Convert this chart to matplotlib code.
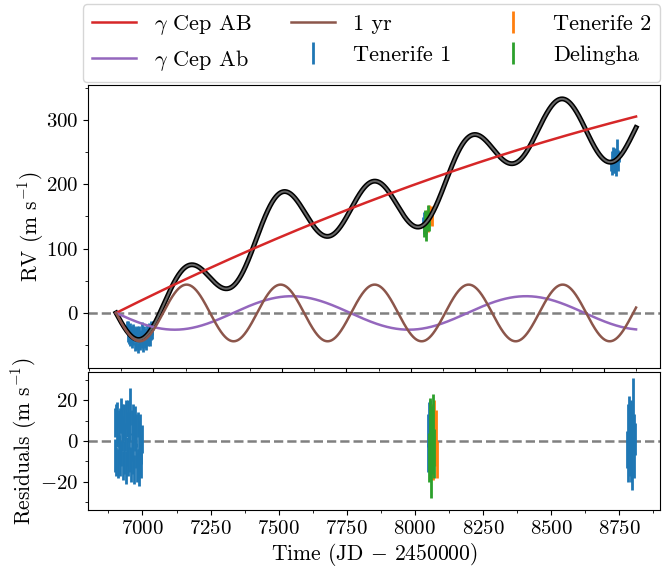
import numpy as np
import matplotlib
matplotlib.use("Agg")
import matplotlib.pyplot as plt
import matplotlib.patheffects as pe
from matplotlib.ticker import MultipleLocator, AutoMinorLocator

plt.rcParams['font.family'] = 'serif'
plt.rcParams['font.serif'] = ['cmr10']
plt.rcParams['mathtext.fontset'] = 'cm'
plt.rcParams['axes.formatter.use_mathtext'] = True
plt.rcParams['axes.unicode_minus'] = True
plt.rcParams['font.size'] = 15
plt.rcParams['axes.labelsize'] = 15.5

# ---- model parameters ----
model_t_start = 6855.0
model_t_end = 8875.0
AB_lin = 0.2001          # m/s per day (binary trend)
AB_quad = -2.43e-5       # curvature of the trend
Ab_K = 26.0              # planet semi-amplitude, m/s
Ab_P = 910.0             # planet period, days
yr_K = 44.0              # 1-yr signal amplitude, m/s
yr_P = 365.25            # days

# ---- Tenerife 1 (season 1) ----
t1a_time = [6898, 6900, 6902, 6904, 6906, 6908, 6910, 6912, 6914, 6916,
            6918, 6920, 6922, 6924, 6926, 6928, 6930, 6932, 6934, 6936,
            6938, 6940, 6942, 6944, 6946, 6948, 6950, 6952, 6954, 6956,
            6958, 6960, 6962, 6964, 6966, 6968, 6970, 6972, 6974, 6976,
            6978, 6980, 6982, 6984, 6986, 6988, 6990, 6992, 6994, 6996, 6998]
t1a_rv = [-20, -37, -19, -42, -28, -21, -45, -28, -40, -27,
          -46, -24, -44, -36, -28, -52, -34, -30, -49, -39,
          -28, -54, -33, -46, -29, -51, -34, -37, -49, -23,
          -52, -30, -42, -27, -46, -31, -50, -33, -25, -41,
          -28, -45, -42, -22, -42, -26, -35, -18, -28, -33, -20]
t1a_res = [9, -7, 12, -10, 5, 13, -11, 7, -4, 10,
           -9, 14, -6, 3, 11, -12, 6, 10, -8, 2,
           13, -13, 8, -5, 12, -10, 7, 4, -9, 17,
           -12, 9, -3, 11, -8, 6, -14, 3, 10, -7,
           5, -13, -11, 8, -13, 2, -9, 7, -4, -10, 1]
t1a_err = [7, 8, 6, 7, 8, 6, 7, 8, 7, 6,
           8, 7, 6, 8, 7, 7, 6, 8, 8, 7,
           7, 8, 6, 7, 8, 7, 7, 8, 6, 9,
           8, 6, 7, 7, 8, 6, 7, 8, 7, 6,
           8, 7, 7, 6, 9, 8, 7, 6, 7, 8, 7]

# ---- Tenerife 1 (season 2) ----
t1b_time = [8048, 8050, 8052, 8054, 8056, 8058, 8060, 8062]
t1b_rv = [141, 129, 148, 134, 151, 130, 143, 136]
t1b_res = [5, -8, 10, -4, 12, -10, 3, -6]
t1b_err = [8, 7, 9, 8, 8, 8, 7, 9]

# ---- Tenerife 1 (season 3) ----
t1c_time = [8779, 8781, 8783, 8785, 8787, 8789, 8791, 8793,
            8795, 8797, 8799, 8801, 8803, 8805, 8807]
t1c_rv = [230, 242, 223, 241, 248, 228, 239, 246,
          228, 225, 243, 257, 231, 244, 242]
t1c_res = [-4, 8, -12, 6, 13, -7, 3, 10,
           -9, -12, 5, 18, -8, 4, 1]
t1c_err = [9, 10, 8, 11, 9, 10, 9, 10,
           11, 12, 9, 13, 10, 9, 8]

# ---- Tenerife 2 ----
t2_time = [8060, 8063, 8066, 8069, 8072, 8075, 8078, 8081]
t2_rv = [134, 151, 133, 150, 159, 146, 158, 144]
t2_res = [-6, 9, -11, 4, 12, -3, 7, -9]
t2_err = [8, 9, 8, 10, 8, 9, 8, 9]

# ---- Delingha ----
dl_time = [8052, 8055, 8058, 8061, 8064, 8067, 8070]
dl_rv = [130, 149, 126, 146, 140, 156, 140]
dl_res = [-8, 10, -14, 5, -3, 12, -6]
dl_err = [12, 11, 14, 12, 13, 11, 12]

xticks = [7000, 7250, 7500, 7750, 8000, 8250, 8500, 8750]

# ---- model curves ----
tm = np.linspace(model_t_start, model_t_end, 3000)
dt = tm - model_t_start
rv_AB = AB_lin * dt + AB_quad * dt ** 2
rv_Ab = -Ab_K * np.sin(2 * np.pi * dt / Ab_P)
rv_yr = -yr_K * np.sin(2 * np.pi * dt / yr_P)
rv_tot = rv_AB + rv_Ab + rv_yr

fig = plt.figure(figsize=(6.63, 5.66), dpi=100)
W, H = 663.0, 566.0
ax1 = fig.add_axes([88 / W, 1 - 368 / H, 572 / W, 283 / H])
ax2 = fig.add_axes([88 / W, 1 - 510 / H, 572 / W, 138 / H])

c_T1, c_T2, c_DL = '#1f77b4', '#ff7f0e', '#2ca02c'
ekw = dict(fmt='none', elinewidth=2.0, capsize=0)

# top panel
ax1.axhline(0, color='gray', ls='--', lw=1.8, zorder=1)
h_t1 = ax1.errorbar(t1a_time, t1a_rv, yerr=t1a_err, ecolor=c_T1, label='Tenerife 1', **ekw)
ax1.errorbar(t1b_time, t1b_rv, yerr=t1b_err, ecolor=c_T1, **ekw)
ax1.errorbar(t1c_time, t1c_rv, yerr=t1c_err, ecolor=c_T1, **ekw)
h_t2 = ax1.errorbar(t2_time, t2_rv, yerr=t2_err, ecolor=c_T2, label='Tenerife 2', **ekw)
h_dl = ax1.errorbar(dl_time, dl_rv, yerr=dl_err, ecolor=c_DL, label='Delingha', **ekw)

ax1.plot(tm, rv_tot, color='0.4', lw=1.4,
         path_effects=[pe.Stroke(linewidth=3.6, foreground='k'), pe.Normal()])
h_ab, = ax1.plot(tm, rv_AB, color='#d62728', lw=1.8, label=r'$\gamma$ Cep AB')
h_pl, = ax1.plot(tm, rv_Ab, color='#9467bd', lw=1.8, label=r'$\gamma$ Cep Ab')
h_yr, = ax1.plot(tm, rv_yr, color='#8c564b', lw=1.8, label='1 yr')

ax1.set_xlim(6746, 8968)
ax1.set_ylim(-85.5, 354)
ax1.set_xticks(xticks)
ax1.set_xticklabels([])
ax1.xaxis.set_minor_locator(AutoMinorLocator(2))
ax1.set_yticks([0, 100, 200, 300])
ax1.yaxis.set_minor_locator(MultipleLocator(50))
ax1.set_ylabel(r'RV (m s$^{-1}$)', labelpad=0)

# bottom panel
ax2.axhline(0, color='gray', ls='--', lw=1.8, zorder=1)
ax2.errorbar(t1a_time, t1a_res, yerr=t1a_err, ecolor=c_T1, **ekw)
ax2.errorbar(t1b_time, t1b_res, yerr=t1b_err, ecolor=c_T1, **ekw)
ax2.errorbar(t1c_time, t1c_res, yerr=t1c_err, ecolor=c_T1, **ekw)
ax2.errorbar(t2_time, t2_res, yerr=t2_err, ecolor=c_T2, **ekw)
ax2.errorbar(dl_time, dl_res, yerr=dl_err, ecolor=c_DL, **ekw)
ax2.set_xlim(6800, 8900)
ax2.set_ylim(-33.7, 33.7)
ax2.set_xticks(xticks)
ax2.xaxis.set_minor_locator(AutoMinorLocator(2))
ax2.set_yticks([-20, 0, 20])
ax2.yaxis.set_minor_locator(MultipleLocator(10))
ax2.set_ylabel(r'Residuals (m s$^{-1}$)', labelpad=1)
ax2.set_xlabel(r'Time (JD $-$ 2450000)', labelpad=2)

handles = [h_ab, h_pl, h_yr, h_t1, h_t2, h_dl]
labels = [h.get_label() for h in handles]
fig.legend(handles, labels, ncol=3, loc='lower left', mode='expand',
           bbox_to_anchor=(83 / W, 1 - 82 / H, 577 / W, 72 / H),
           borderaxespad=0, fontsize=16)

fig.savefig('out.png', dpi=100)
